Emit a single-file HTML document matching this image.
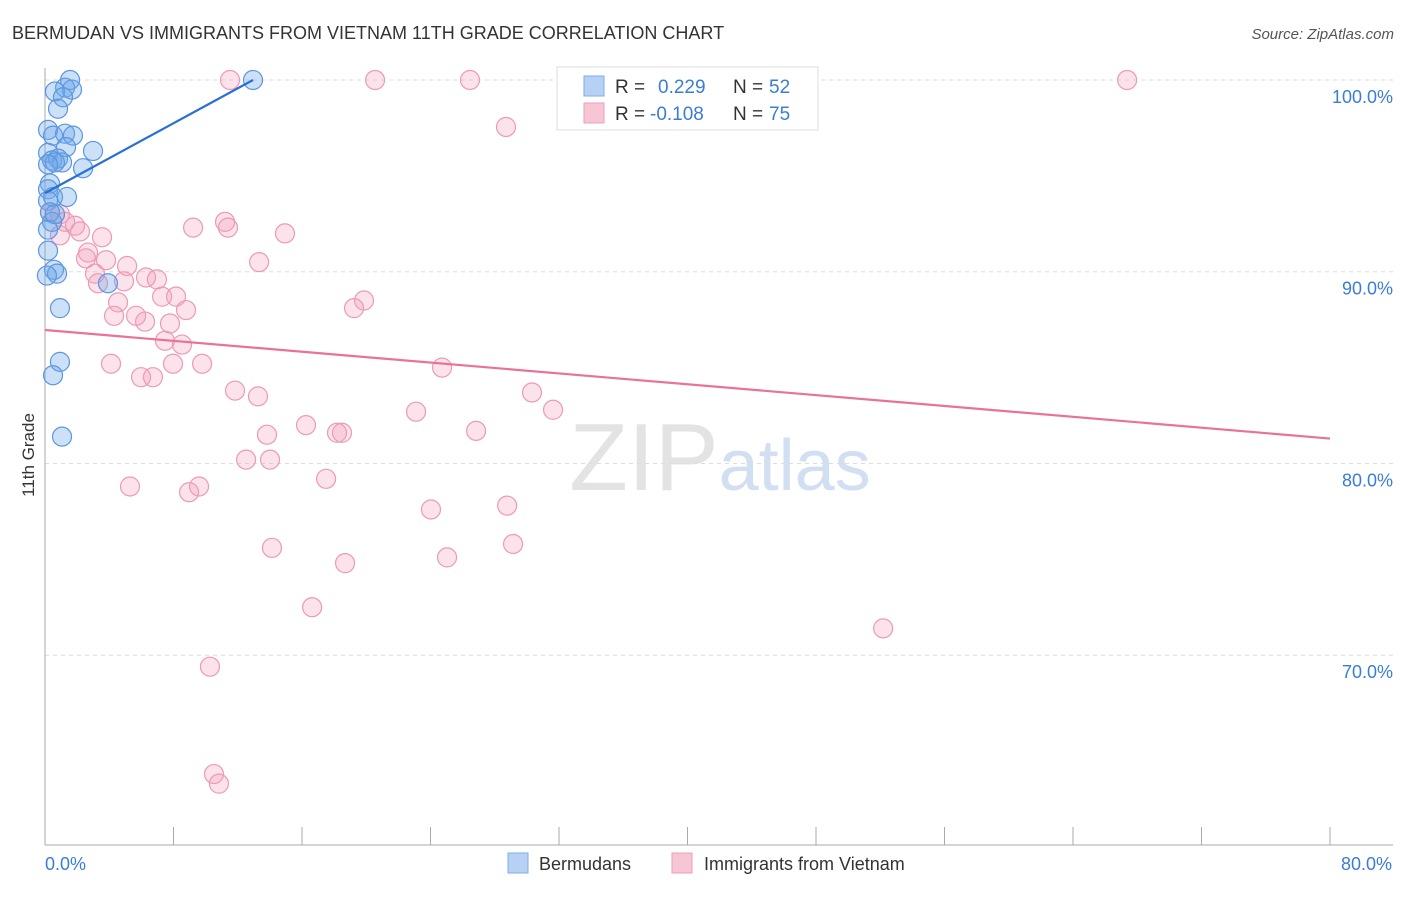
<!DOCTYPE html>
<html><head><meta charset="utf-8"><style>
body{margin:0;background:#fff;font-family:"Liberation Sans",sans-serif;}
svg text{font-family:"Liberation Sans",sans-serif;}
</style></head><body>
<svg id="chart" width="1406" height="892" viewBox="0 0 1406 892" xmlns="http://www.w3.org/2000/svg">
<text x="12" y="39" font-size="18" fill="#333">BERMUDAN VS IMMIGRANTS FROM VIETNAM 11TH GRADE CORRELATION CHART</text>
<text x="1394" y="39" font-size="15" fill="#555" text-anchor="end" font-style="italic">Source: ZipAtlas.com</text>
<text x="720" y="490" font-size="96" text-anchor="middle" fill="#ddd" font-family="Liberation Serif" opacity="0.8">ZIP<tspan fill="#c8d8ef" font-family="Liberation Sans" font-size="72">atlas</tspan></text>
<g id="grid"></g>
<g id="axes"></g>
<g id="pts"></g>
<g id="trend"></g>
<text transform="translate(34,455) rotate(-90)" font-size="17" fill="#333" text-anchor="middle">11th Grade</text>
<g>
<rect x="557" y="67" width="261" height="63" fill="#fff" stroke="#ddd"/>
<rect x="584" y="76" width="20" height="20" fill="#b6d1f3" stroke="#7eaee8"/>
<text x="615" y="93" font-size="19" fill="#333">R = </text><text x="658" y="93" font-size="19" fill="#3a7dd8">0.229</text>
<text x="733" y="93" font-size="19" fill="#333">N = </text><text x="769" y="93" font-size="19" fill="#3a7dd8">52</text>
<rect x="584" y="103" width="20" height="20" fill="#f7c6d5" stroke="#ee9fb8"/>
<text x="615" y="120" font-size="19" fill="#333">R = </text><text x="650" y="120" font-size="19" fill="#3a7dd8">-0.108</text>
<text x="733" y="120" font-size="19" fill="#333">N = </text><text x="769" y="120" font-size="19" fill="#3a7dd8">75</text>
</g>
<g>
<rect x="508" y="853" width="20" height="20" fill="#b6d1f3" stroke="#7eaee8"/>
<text x="539" y="870" font-size="18" fill="#333">Bermudans</text>
<rect x="672" y="853" width="20" height="20" fill="#f7c6d5" stroke="#ee9fb8"/>
<text x="704" y="870" font-size="18" fill="#333">Immigrants from Vietnam</text>
</g>
</svg>
<script>
const xTicks=[0,10,20,30,40,50,60,70,80];
const yTicks=[100,90,80,70];
const yTickLabels=["100.0%","90.0%","80.0%","70.0%"];
const xEndLabels=["0.0%","80.0%"];
const blueX=[1.56,1.25,1.68,0.62,1.12,0.81,0.19,0.5,1.25,1.74,2.99,1.31,0.19,0.44,0.81,1.06,0.62,0.19,2.37,0.31,0.19,0.5,1.37,0.19,0.31,0.44,0.19,0.19,0.56,0.75,0.12,3.92,0.93,0.93,0.5,1.06,12.95,0.62];
const blueY=[100,99.6,99.5,99.4,99.1,98.5,97.4,97.1,97.2,97.1,96.3,96.5,96.2,95.8,95.9,95.7,95.7,95.6,95.4,94.6,94.3,93.9,93.9,93.7,93.1,92.6,92.2,91.1,90.1,89.9,89.8,89.4,88.1,85.3,84.6,81.4,100,93.0];
const pinkX=[11.52,20.55,26.46,67.37,28.7,11.21,9.22,11.39,14.94,0.31,0.93,1.25,1.87,2.18,0.93,3.55,2.68,2.55,3.8,5.11,3.11,3.3,4.92,6.29,6.97,13.33,4.55,7.29,8.16,8.78,4.3,5.67,6.23,7.78,7.47,8.53,4.11,7.97,9.78,5.98,6.72,19.86,19.24,24.72,11.83,13.26,30.32,23.1,31.63,16.25,26.84,13.82,18.18,18.49,12.52,14.01,17.5,5.29,8.97,9.59,24.03,28.77,29.14,14.13,25.03,18.68,16.63,52.18,10.27,10.52,10.83];
const pinkY=[100,100,100,100,97.55,92.6,92.3,92.3,92.0,93.1,93.0,92.6,92.4,92.1,91.9,91.8,91.0,90.7,90.6,90.3,89.9,89.4,89.5,89.7,89.6,90.5,88.4,88.7,88.7,88.0,87.7,87.7,87.4,87.3,86.4,86.2,85.2,85.2,85.2,84.5,84.5,88.5,88.1,85.0,83.8,83.5,83.7,82.7,82.8,82.0,81.7,81.5,81.6,81.6,80.2,80.2,79.2,78.8,78.5,78.8,77.6,77.8,75.8,75.6,75.1,74.8,72.5,71.4,69.4,63.8,63.3];
const blueTrendX=[0,12.95];
const blueTrendY=[94.1,100];
const pinkTrendX=[0,80];
const pinkTrendY=[86.96,81.3];

const X0=45,X1=1330,YTOP=80,YBOT=845;
const xMin=0,xMax=80,yMin=60.1,yMax=100;
function sx(v){return X0+(v-xMin)/(xMax-xMin)*(X1-X0);}
function sy(v){return YBOT-(v-yMin)/(yMax-yMin)*(YBOT-YTOP);}
const NS="http://www.w3.org/2000/svg";
function mk(tag,attrs,parent){const e=document.createElementNS(NS,tag);for(const k in attrs)e.setAttribute(k,attrs[k]);parent.appendChild(e);return e;}
const grid=document.getElementById('grid'),axes=document.getElementById('axes'),pts=document.getElementById('pts'),trend=document.getElementById('trend');
yTicks.forEach((t,i)=>{
  const l=mk('line',{x1:X0,x2:1393,y1:sy(t),y2:sy(t),stroke:'#ddd','stroke-dasharray':'4,4'},grid);
  
  
  const tx=mk('text',{x:1393,y:sy(t)+23,'font-size':18,fill:'#3a7dd8','text-anchor':'end'},axes);
  tx.textContent=yTickLabels[i];
  
  
});
const ya=mk('line',{x1:X0,x2:X0,y1:68,y2:YBOT,stroke:'#aaa'},axes);


const xa=mk('line',{x1:X0,x2:1393,y1:YBOT,y2:YBOT,stroke:'#aaa'},axes);


for(let v=0;v<=80;v+=8){
  const t=mk('line',{x1:sx(v),x2:sx(v),y1:YBOT,y2:YBOT-18,stroke:'#aaa'},axes);
  
  
}
[[xMin,'start'],[xMax,'end']].forEach((p,i)=>{
  const tx=mk('text',{x:sx(p[0])+(i?62:0),y:870,'font-size':18,fill:'#3a7dd8','text-anchor':p[1]},axes);
  tx.textContent=xEndLabels[i];
  
  
});
pinkX.forEach((x,i)=>{
  const c=mk('circle',{cx:sx(x),cy:sy(pinkY[i]),r:9.5,fill:'rgba(243,160,188,0.3)',stroke:'#ec9ab5','stroke-width':1.2},pts);
  
  
});
blueX.forEach((x,i)=>{
  const c=mk('circle',{cx:sx(x),cy:sy(blueY[i]),r:9.5,fill:'rgba(110,165,232,0.35)',stroke:'#5b97e0','stroke-width':1.2},pts);
  
  
});
const bl=mk('line',{x1:sx(blueTrendX[0]),y1:sy(blueTrendY[0]),x2:sx(blueTrendX[1]),y2:sy(blueTrendY[1]),stroke:'#2a6fd4','stroke-width':2.2},trend);


const pl=mk('line',{x1:sx(pinkTrendX[0]),y1:sy(pinkTrendY[0]),x2:sx(pinkTrendX[1]),y2:sy(pinkTrendY[1]),stroke:'#e8729a','stroke-width':2.2},trend);


</script>
</body></html>
